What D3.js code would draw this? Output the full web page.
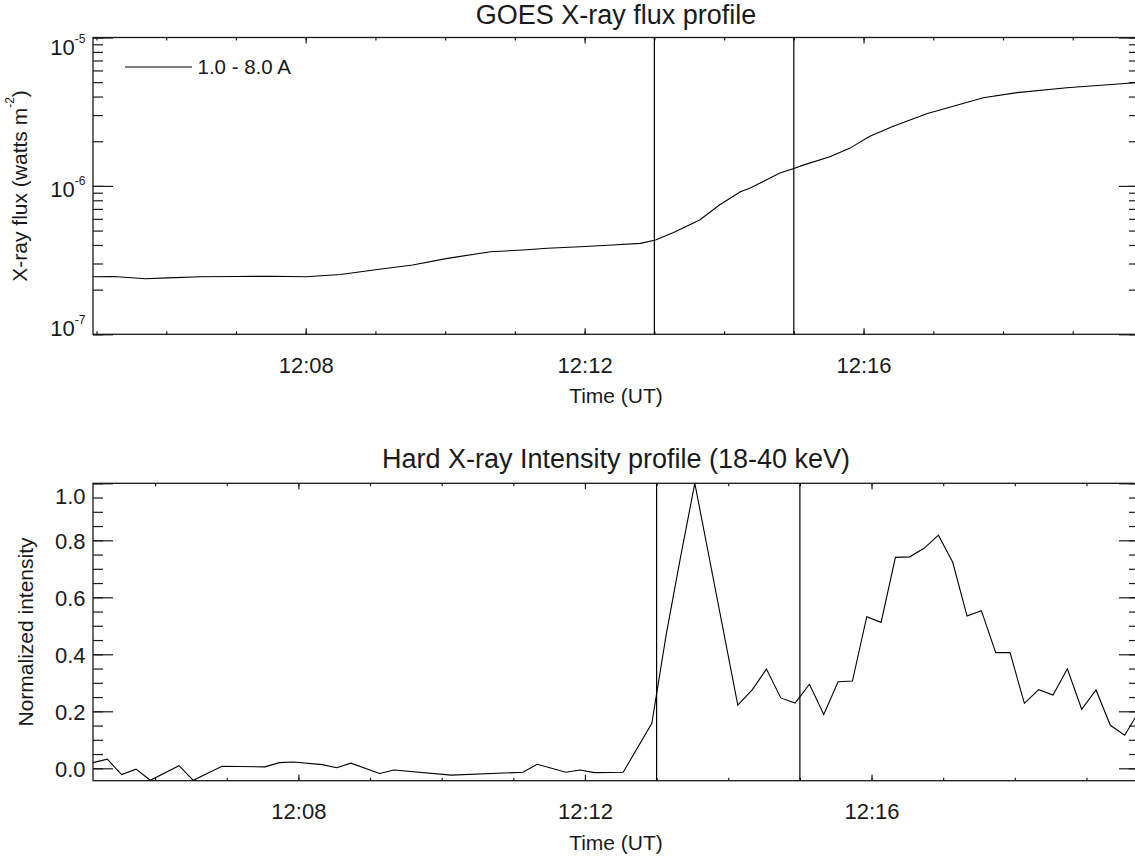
<!DOCTYPE html>
<html>
<head>
<meta charset="utf-8">
<title>GOES and hard X-ray profiles</title>
<script src="https://cdn.jsdelivr.net/npm/d3@7"></script>
<style>
  body { margin: 0; background: #fff; }
  svg { display: block; font-family: Helvetica, Arial, "Liberation Sans", sans-serif; }
  .tick text { fill: #1a1a1a; }
</style>
</head>
<body>
<svg id="chart" width="1135" height="858"></svg>
<script>
// GOES 1.0 - 8.0 A flux (watts m^-2)
const goesTimes = [
  "12:04:57", "12:05:15", "12:05:42", "12:06:01", "12:06:30", "12:07:00", "12:07:30",
  "12:08:00", "12:08:30", "12:09:00", "12:09:32", "12:10:02", "12:10:39", "12:11:07",
  "12:11:28", "12:11:56", "12:12:24", "12:12:48", "12:13:01", "12:13:16", "12:13:39",
  "12:13:56", "12:14:14", "12:14:22", "12:14:48", "12:15:00", "12:15:08", "12:15:31",
  "12:15:48", "12:16:05", "12:16:25", "12:16:55", "12:17:43", "12:18:12", "12:18:55",
  "12:19:54", "12:19:57"
]
const goesFlux = [
  2.44e-7, 2.45e-7, 2.37e-7, 2.40e-7, 2.44e-7, 2.45e-7, 2.46e-7,
  2.44e-7, 2.53e-7, 2.72e-7, 2.93e-7, 3.25e-7, 3.60e-7, 3.70e-7,
  3.80e-7, 3.89e-7, 4.00e-7, 4.10e-7, 4.32e-7, 4.84e-7, 5.89e-7,
  7.43e-7, 9.14e-7, 9.64e-7, 1.22e-6, 1.31e-6, 1.38e-6, 1.57e-6,
  1.79e-6, 2.15e-6, 2.51e-6, 3.08e-6, 3.93e-6, 4.25e-6, 4.59e-6,
  4.96e-6, 5.00e-6
]

// hard X-ray 18-40 keV, normalized intensity (12 s samples)
const hxrTimes = [
  "12:05:08", "12:05:20", "12:05:32", "12:05:44", "12:05:56", "12:06:20", "12:06:32",
  "12:06:56", "12:07:32", "12:07:44", "12:07:56", "12:08:20", "12:08:32", "12:08:44",
  "12:09:08", "12:09:20", "12:10:08", "12:11:08", "12:11:20", "12:11:44", "12:11:56",
  "12:12:08", "12:12:32", "12:12:56", "12:13:08", "12:13:20", "12:13:32", "12:14:08",
  "12:14:20", "12:14:32", "12:14:44", "12:14:56", "12:15:08", "12:15:20", "12:15:32",
  "12:15:44", "12:15:56", "12:16:08", "12:16:20", "12:16:32", "12:16:44", "12:16:56",
  "12:17:08", "12:17:20", "12:17:32", "12:17:44", "12:17:56", "12:18:08", "12:18:20",
  "12:18:32", "12:18:44", "12:18:56", "12:19:08", "12:19:20", "12:19:32", "12:19:44"
]
const hxrIntensity = [
  0.020, 0.032, -0.022, -0.003, -0.042, 0.009, -0.042,
  0.007, 0.005, 0.020, 0.022, 0.013, 0.002, 0.018,
  -0.018, -0.006, -0.024, -0.014, 0.014, -0.014, -0.006,
  -0.015, -0.014, 0.158, 0.468, 0.740, 1.000, 0.222,
  0.275, 0.348, 0.247, 0.229, 0.295, 0.189, 0.304,
  0.306, 0.532, 0.512, 0.740, 0.742, 0.772, 0.818,
  0.723, 0.534, 0.553, 0.406, 0.406, 0.228, 0.276,
  0.257, 0.349, 0.207, 0.275, 0.151, 0.116, 0.200
]

const markerTimes = ["12:13:00", "12:15:00"]
const goesDomain = ["12:04:57", "12:19:57"]
const hxrDomain = ["12:05:08", "12:19:44"]
const fluxDomain = [1e-7, 1e-5]
const fluxTicks = [1e-7, 1e-6, 1e-5]
const intensityDomain = [-0.0435, 1.0]
const intensityTicks = [0.0, 0.2, 0.4, 0.6, 0.8, 1.0]

const parseTime = d3.utcParse("%H:%M:%S")
const svg = d3.select("#chart")
const left = 93
const right = 1139
const ink = "#1a1a1a"

/**
 * drawPanel()
 * @description draws one framed time profile with its axes, markers and title
 */
function drawPanel(p) {
  const x = d3.scaleUtc().domain(p.xDomain.map(parseTime)).range([left, right])
  const y = p.y.range([p.bottom, p.top])
  const clipId = "clip-" + p.name

  svg.append("clipPath").attr("id", clipId)
    .append("rect")
    .attr("x", left).attr("y", p.top)
    .attr("width", right - left).attr("height", p.bottom - p.top)

  // time axes, minute ticks pointing inward, labels every 4 minutes
  const minor = x.ticks(d3.utcMinute.every(1))
  const major = x.ticks(d3.utcMinute.every(4))
  const noDomain = g => g.select(".domain").remove()

  svg.append("g").attr("transform", `translate(0,${p.bottom})`)
    .call(d3.axisBottom(x).tickValues(minor).tickSize(-3).tickFormat(""))
    .call(noDomain)
  svg.append("g").attr("transform", `translate(0,${p.bottom})`)
    .call(d3.axisBottom(x).tickValues(major).tickSize(-6).tickPadding(23)
      .tickFormat(d3.utcFormat("%H:%M")))
    .call(noDomain)
    .call(g => g.selectAll("text").style("font-size", "22px"))
  svg.append("g").attr("transform", `translate(0,${p.top})`)
    .call(d3.axisTop(x).tickValues(minor).tickSize(-3).tickFormat(""))
    .call(noDomain)
  svg.append("g").attr("transform", `translate(0,${p.top})`)
    .call(d3.axisTop(x).tickValues(major).tickSize(-6).tickFormat(""))
    .call(noDomain)

  // value axes on both sides
  const yMinor = p.yMinor(y)
  svg.append("g").attr("transform", `translate(${left},0)`)
    .call(d3.axisLeft(y).tickValues(yMinor).tickSize(-10).tickFormat(""))
    .call(noDomain)
  svg.append("g").attr("transform", `translate(${right},0)`)
    .call(d3.axisRight(y).tickValues(yMinor).tickSize(-10).tickFormat(""))
    .call(noDomain)
  svg.append("g").attr("transform", `translate(${right},0)`)
    .call(d3.axisRight(y).tickValues(p.yTicks).tickSize(-20).tickFormat(""))
    .call(noDomain)

  const yAxis = svg.append("g").attr("transform", `translate(${left},0)`)
    .call(d3.axisLeft(y).tickValues(p.yTicks).tickSize(-20).tickPadding(7.5)
      .tickFormat(p.yFormat))
    .call(noDomain)
  yAxis.selectAll("text").style("font-size", "22px").attr("dy", p.labelDy)
  if (p.decorate) yAxis.selectAll("text").each(p.decorate)

  // keep the end labels inside the frame, as the original plot does
  yAxis.selectAll(".tick").each(function(d) {
    const ty = y(d)
    const c = Math.max(p.top + p.margins[0], Math.min(p.bottom - p.margins[1], ty))
    d3.select(this).select("text").attr("y", c - ty)
  })

  svg.selectAll(".tick line").attr("stroke", ink).attr("stroke-width", 1.2)

  // frame
  svg.append("rect")
    .attr("x", left).attr("y", p.top)
    .attr("width", right - left).attr("height", p.bottom - p.top)
    .attr("fill", "none").attr("stroke", ink).attr("stroke-width", 1.3)

  // data
  const line = d3.line().x(d => x(d.t)).y(d => y(d.v))
  svg.append("path")
    .datum(p.data)
    .attr("clip-path", `url(#${clipId})`)
    .attr("d", line)
    .attr("fill", "none")
    .attr("stroke", "#000")
    .attr("stroke-width", 1.1)

  // event markers
  svg.append("g").selectAll("line")
    .data(markerTimes.map(parseTime))
    .join("line")
    .attr("x1", d => x(d)).attr("x2", d => x(d))
    .attr("y1", p.top).attr("y2", p.bottom)
    .attr("stroke", "#000").attr("stroke-width", 1.2)

  // texts
  svg.append("text")
    .attr("x", (left + right) / 2).attr("y", p.titleY)
    .attr("text-anchor", "middle")
    .style("font-size", "27px").attr("fill", ink)
    .text(p.title)

  svg.append("text")
    .attr("x", (left + right) / 2).attr("y", p.bottom + 69)
    .attr("text-anchor", "middle")
    .style("font-size", "21px").attr("fill", ink)
    .text("Time (UT)")

  const yl = svg.append("text")
    .attr("transform", `translate(${p.yLabelX},${(p.top + p.bottom) / 2}) rotate(-90)`)
    .attr("text-anchor", "middle")
    .style("font-size", "21px").attr("fill", ink)
  p.yLabel(yl)

  return { x, y }
}

// top panel: GOES soft X-ray flux
const goes = drawPanel({
  name: "goes",
  top: 37.5,
  bottom: 334.3,
  titleY: 24,
  title: "GOES X-ray flux profile",
  xDomain: goesDomain,
  y: d3.scaleLog().domain(fluxDomain),
  yTicks: fluxTicks,
  yMinor: y => y.ticks(),
  yFormat: d => String(Math.round(Math.log10(d))),
  labelDy: "0.49em",
  margins: [6, 10],
  decorate: function() {
    const t = d3.select(this)
    const e = t.text()
    t.text(null)
    t.append("tspan").text("10")
    t.append("tspan").attr("dy", -12).style("font-size", "12px").text(e)
  },
  yLabelX: 27,
  yLabel: t => {
    t.append("tspan").text("X-ray flux (watts m")
    t.append("tspan").attr("dy", -13).style("font-size", "12px").text("-2")
    t.append("tspan").attr("dy", 13).text(")")
  },
  data: goesTimes.map((s, i) => ({ t: parseTime(s), v: goesFlux[i] }))
})

// legend
svg.append("line")
  .attr("x1", 125).attr("x2", 192).attr("y1", 67).attr("y2", 67)
  .attr("stroke", "#000").attr("stroke-width", 1.2)
svg.append("text")
  .attr("x", 197.5).attr("y", 74)
  .style("font-size", "20.5px").attr("fill", ink)
  .text("1.0 - 8.0 A")

// bottom panel: hard X-ray intensity
drawPanel({
  name: "hxr",
  top: 483.3,
  bottom: 780.7,
  titleY: 468.3,
  title: "Hard X-ray Intensity profile (18-40 keV)",
  xDomain: hxrDomain,
  y: d3.scaleLinear().domain(intensityDomain),
  yTicks: intensityTicks,
  yMinor: y => y.ticks(20),
  yFormat: d3.format(".1f"),
  labelDy: "0.35em",
  margins: [12, 12],
  yLabelX: 33,
  yLabel: t => t.text("Normalized intensity"),
  data: hxrTimes.map((s, i) => ({ t: parseTime(s), v: hxrIntensity[i] }))
})
</script>
</body>
</html>
